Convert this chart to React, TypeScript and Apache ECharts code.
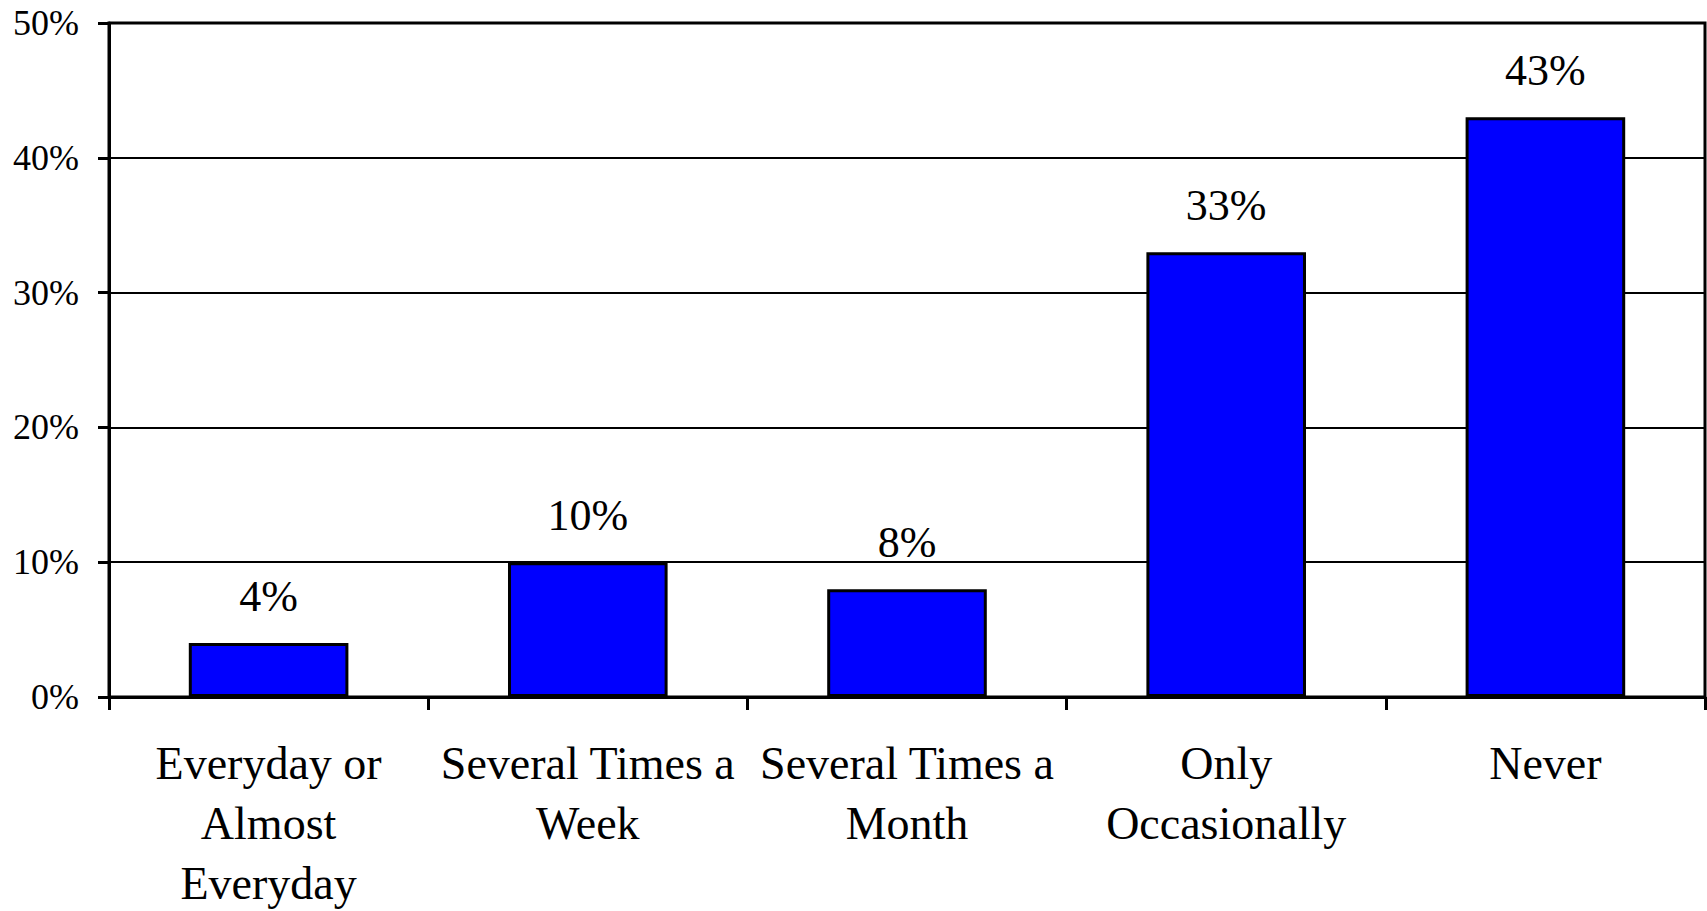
import React, { useEffect, useRef } from "react";
import * as echarts from "echarts";

const categories = [
  "Everyday or\nAlmost\nEveryday",
  "Several Times a\nWeek",
  "Several Times a\nMonth",
  "Only\nOccasionally",
  "Never",
];
const values = [4, 10, 8, 33, 43];
const yTicks = { min: 0, max: 50, interval: 10 };

const FONT = "'Liberation Serif', 'Times New Roman', serif";

export default function App() {
  const ref = useRef<HTMLDivElement>(null);
  useEffect(() => {
    document.body.style.margin = "0";
    const chart = echarts.init(ref.current!, null, {
      renderer: "svg",
      width: 1707,
      height: 911,
    });
    chart.setOption({
      animation: false,
      backgroundColor: "#ffffff",
      grid: {
        left: 109,
        top: 23,
        right: 2,
        bottom: 214,
        show: true,
        borderColor: "#000",
        borderWidth: 3,
        containLabel: false,
        outerBoundsMode: "none",
      },
      xAxis: {
        type: "category",
        data: categories,
        boundaryGap: true,
        axisLine: { show: true, lineStyle: { color: "#000", width: 3 } },
        axisTick: { show: true, length: 13, lineStyle: { color: "#000", width: 3 } },
        axisLabel: {
          interval: 0,
          margin: 36,
          color: "#000",
          fontFamily: FONT,
          fontSize: 46,
          lineHeight: 60,
        },
        splitLine: { show: false },
      },
      yAxis: {
        type: "value",
        min: yTicks.min,
        max: yTicks.max,
        interval: yTicks.interval,
        axisLine: { show: true, lineStyle: { color: "#000", width: 3 } },
        axisTick: { show: true, length: 11, lineStyle: { color: "#000", width: 3 } },
        axisLabel: {
          margin: 30,
          color: "#000",
          fontFamily: FONT,
          fontSize: 36,
          formatter: "{value}%",
        },
        splitLine: { show: true, lineStyle: { color: "#000", width: 2 } },
      },
      series: [
        {
          type: "bar",
          data: values,
          barWidth: "50%",
          itemStyle: { color: "#0000ff", borderColor: "#000", borderWidth: 3 },
          label: {
            show: true,
            position: "top",
            distance: 25,
            color: "#000",
            fontFamily: FONT,
            fontSize: 44,
            formatter: "{c}%",
          },
        },
      ],
    });
    return () => chart.dispose();
  }, []);
  return (
    <div
      ref={ref}
      style={{ position: "absolute", left: 0, top: 0, width: 1707, height: 911 }}
    />
  );
}
